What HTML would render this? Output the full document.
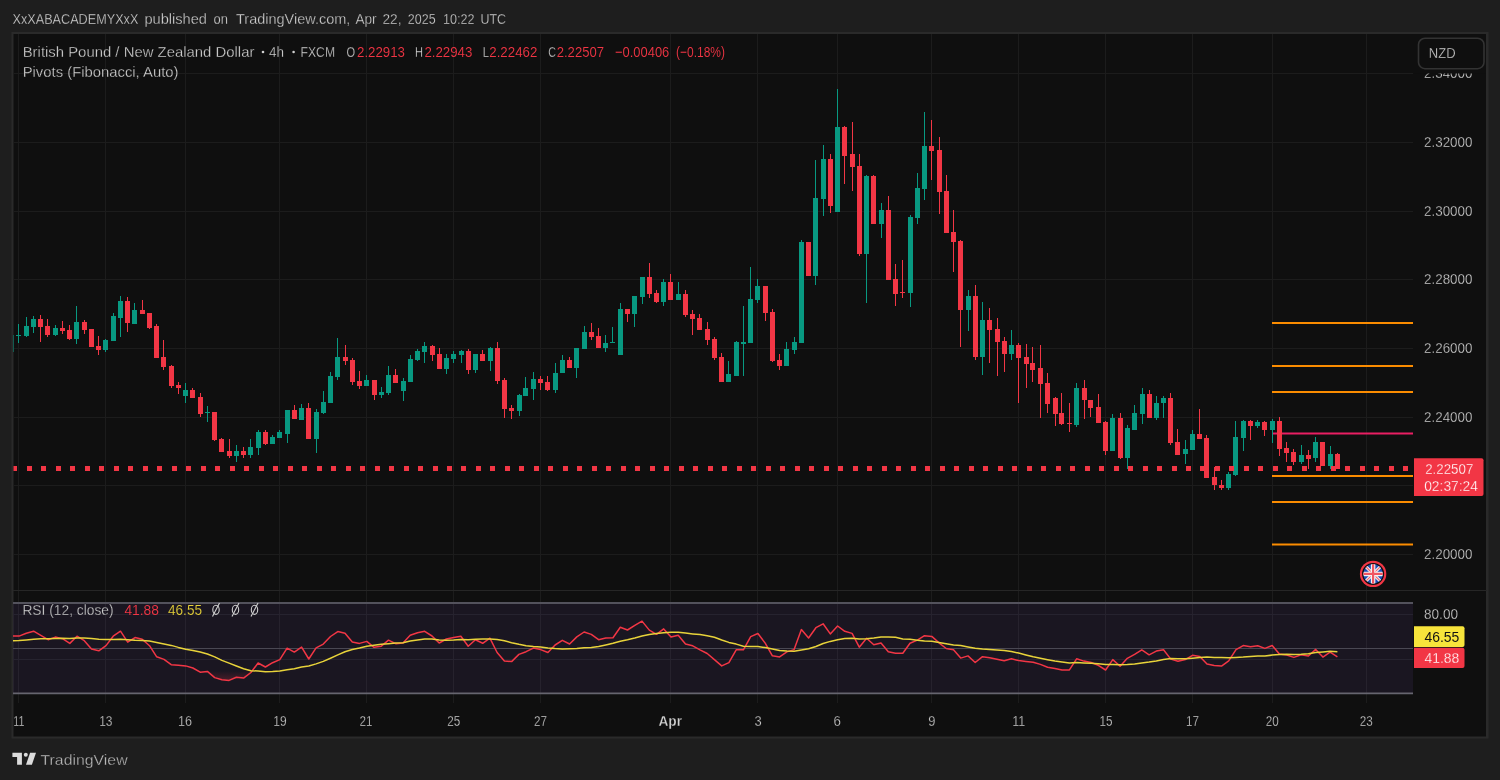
<!DOCTYPE html>
<html><head><meta charset="utf-8"><style>
html,body{margin:0;padding:0;background:#1e1e1e;overflow:hidden;width:1500px;height:780px;}
svg{display:block;font-family:"Liberation Sans", sans-serif;will-change:transform;}
</style></head><body>
<svg width="1500" height="780" viewBox="0 0 1500 780">
<rect x="0" y="0" width="1500" height="780" fill="#1e1e1e"/>
<rect x="11.5" y="32" width="1477" height="706.5" fill="#2a2a2a"/>
<rect x="13.5" y="34" width="1472.5" height="702.5" fill="#0f0f0f"/>
<defs><clipPath id="cm"><rect x="13.5" y="34" width="1399.5" height="556"/></clipPath><clipPath id="cr"><rect x="13" y="591" width="1400" height="112"/></clipPath><linearGradient id="osg" gradientUnits="userSpaceOnUse" x1="0" y1="671" x2="0" y2="688"><stop offset="0" stop-color="#f23645" stop-opacity="0"/><stop offset="1" stop-color="#f23645" stop-opacity="0.4"/></linearGradient></defs>
<line x1="18.5" y1="34" x2="18.5" y2="703" stroke="#1c1c1c" stroke-width="1"/>
<line x1="105.5" y1="34" x2="105.5" y2="703" stroke="#1c1c1c" stroke-width="1"/>
<line x1="185.5" y1="34" x2="185.5" y2="703" stroke="#1c1c1c" stroke-width="1"/>
<line x1="279.5" y1="34" x2="279.5" y2="703" stroke="#1c1c1c" stroke-width="1"/>
<line x1="366.5" y1="34" x2="366.5" y2="703" stroke="#1c1c1c" stroke-width="1"/>
<line x1="453.5" y1="34" x2="453.5" y2="703" stroke="#1c1c1c" stroke-width="1"/>
<line x1="540.5" y1="34" x2="540.5" y2="703" stroke="#1c1c1c" stroke-width="1"/>
<line x1="670.5" y1="34" x2="670.5" y2="703" stroke="#1c1c1c" stroke-width="1"/>
<line x1="757.5" y1="34" x2="757.5" y2="703" stroke="#1c1c1c" stroke-width="1"/>
<line x1="837.5" y1="34" x2="837.5" y2="703" stroke="#1c1c1c" stroke-width="1"/>
<line x1="931.5" y1="34" x2="931.5" y2="703" stroke="#1c1c1c" stroke-width="1"/>
<line x1="1018.5" y1="34" x2="1018.5" y2="703" stroke="#1c1c1c" stroke-width="1"/>
<line x1="1105.5" y1="34" x2="1105.5" y2="703" stroke="#1c1c1c" stroke-width="1"/>
<line x1="1192.5" y1="34" x2="1192.5" y2="703" stroke="#1c1c1c" stroke-width="1"/>
<line x1="1272.5" y1="34" x2="1272.5" y2="703" stroke="#1c1c1c" stroke-width="1"/>
<line x1="1366.5" y1="34" x2="1366.5" y2="703" stroke="#1c1c1c" stroke-width="1"/>
<line x1="13" y1="554.5" x2="1413" y2="554.5" stroke="#1c1c1c" stroke-width="1"/>
<line x1="13" y1="485.5" x2="1413" y2="485.5" stroke="#1c1c1c" stroke-width="1"/>
<line x1="13" y1="417.5" x2="1413" y2="417.5" stroke="#1c1c1c" stroke-width="1"/>
<line x1="13" y1="348.5" x2="1413" y2="348.5" stroke="#1c1c1c" stroke-width="1"/>
<line x1="13" y1="279.5" x2="1413" y2="279.5" stroke="#1c1c1c" stroke-width="1"/>
<line x1="13" y1="211.5" x2="1413" y2="211.5" stroke="#1c1c1c" stroke-width="1"/>
<line x1="13" y1="142.5" x2="1413" y2="142.5" stroke="#1c1c1c" stroke-width="1"/>
<line x1="13" y1="73.5" x2="1413" y2="73.5" stroke="#1c1c1c" stroke-width="1"/>
<line x1="13" y1="590.5" x2="1487" y2="590.5" stroke="#262626" stroke-width="1"/>
<rect x="1272" y="322" width="141" height="2" fill="#fb8c00"/>
<rect x="1272" y="365" width="141" height="2" fill="#fb8c00"/>
<rect x="1272" y="391" width="141" height="2" fill="#fb8c00"/>
<rect x="1272" y="432.5" width="141" height="2" fill="#e91e63"/>
<rect x="1272" y="475" width="141" height="2" fill="#fb8c00"/>
<rect x="1272" y="501" width="141" height="2" fill="#fb8c00"/>
<rect x="1272" y="543.5" width="141" height="2" fill="#fb8c00"/>
<g clip-path="url(#cm)">
<rect x="11" y="335" width="1" height="17" fill="#089981"/>
<rect x="9" y="335" width="5" height="17" fill="#089981"/>
<rect x="18" y="324" width="1" height="19" fill="#089981"/>
<rect x="16" y="335" width="5" height="1" fill="#089981"/>
<rect x="26" y="317" width="1" height="20" fill="#089981"/>
<rect x="24" y="326" width="5" height="10" fill="#089981"/>
<rect x="33" y="316" width="1" height="17" fill="#089981"/>
<rect x="31" y="319" width="5" height="8" fill="#089981"/>
<rect x="40" y="315" width="1" height="27" fill="#f23645"/>
<rect x="38" y="319" width="5" height="8" fill="#f23645"/>
<rect x="47" y="319" width="1" height="18" fill="#f23645"/>
<rect x="45" y="326" width="5" height="9" fill="#f23645"/>
<rect x="55" y="325" width="1" height="11" fill="#089981"/>
<rect x="53" y="328" width="5" height="7" fill="#089981"/>
<rect x="62" y="321" width="1" height="13" fill="#f23645"/>
<rect x="60" y="328" width="5" height="3" fill="#f23645"/>
<rect x="69" y="325" width="1" height="15" fill="#f23645"/>
<rect x="67" y="330" width="5" height="9" fill="#f23645"/>
<rect x="76" y="306" width="1" height="38" fill="#089981"/>
<rect x="74" y="322" width="5" height="17" fill="#089981"/>
<rect x="84" y="320" width="1" height="14" fill="#f23645"/>
<rect x="82" y="322" width="5" height="8" fill="#f23645"/>
<rect x="91" y="329" width="1" height="18" fill="#f23645"/>
<rect x="89" y="329" width="5" height="18" fill="#f23645"/>
<rect x="98" y="336" width="1" height="19" fill="#f23645"/>
<rect x="96" y="346" width="5" height="4" fill="#f23645"/>
<rect x="105" y="339" width="1" height="13" fill="#089981"/>
<rect x="103" y="340" width="5" height="10" fill="#089981"/>
<rect x="113" y="313" width="1" height="28" fill="#089981"/>
<rect x="111" y="316" width="5" height="25" fill="#089981"/>
<rect x="120" y="296" width="1" height="41" fill="#089981"/>
<rect x="118" y="301" width="5" height="17" fill="#089981"/>
<rect x="127" y="297" width="1" height="35" fill="#f23645"/>
<rect x="125" y="301" width="5" height="22" fill="#f23645"/>
<rect x="134" y="303" width="1" height="21" fill="#089981"/>
<rect x="132" y="310" width="5" height="14" fill="#089981"/>
<rect x="142" y="300" width="1" height="14" fill="#f23645"/>
<rect x="140" y="310" width="5" height="4" fill="#f23645"/>
<rect x="149" y="313" width="1" height="16" fill="#f23645"/>
<rect x="147" y="313" width="5" height="15" fill="#f23645"/>
<rect x="156" y="324" width="1" height="34" fill="#f23645"/>
<rect x="154" y="326" width="5" height="32" fill="#f23645"/>
<rect x="163" y="340" width="1" height="30" fill="#f23645"/>
<rect x="161" y="357" width="5" height="10" fill="#f23645"/>
<rect x="171" y="365" width="1" height="23" fill="#f23645"/>
<rect x="169" y="366" width="5" height="20" fill="#f23645"/>
<rect x="178" y="382" width="1" height="12" fill="#f23645"/>
<rect x="176" y="385" width="5" height="3" fill="#f23645"/>
<rect x="185" y="383" width="1" height="20" fill="#089981"/>
<rect x="183" y="390" width="5" height="6" fill="#089981"/>
<rect x="192" y="388" width="1" height="10" fill="#f23645"/>
<rect x="190" y="390" width="5" height="8" fill="#f23645"/>
<rect x="200" y="393" width="1" height="24" fill="#f23645"/>
<rect x="198" y="397" width="5" height="17" fill="#f23645"/>
<rect x="207" y="406" width="1" height="16" fill="#089981"/>
<rect x="205" y="412" width="5" height="1" fill="#089981"/>
<rect x="214" y="412" width="1" height="29" fill="#f23645"/>
<rect x="212" y="412" width="5" height="28" fill="#f23645"/>
<rect x="221" y="438" width="1" height="14" fill="#f23645"/>
<rect x="219" y="439" width="5" height="13" fill="#f23645"/>
<rect x="229" y="439" width="1" height="19" fill="#f23645"/>
<rect x="227" y="451" width="5" height="5" fill="#f23645"/>
<rect x="236" y="445" width="1" height="17" fill="#089981"/>
<rect x="234" y="451" width="5" height="5" fill="#089981"/>
<rect x="243" y="447" width="1" height="11" fill="#f23645"/>
<rect x="241" y="451" width="5" height="4" fill="#f23645"/>
<rect x="250" y="439" width="1" height="19" fill="#089981"/>
<rect x="248" y="447" width="5" height="8" fill="#089981"/>
<rect x="258" y="430" width="1" height="25" fill="#089981"/>
<rect x="256" y="432" width="5" height="16" fill="#089981"/>
<rect x="265" y="430" width="1" height="15" fill="#f23645"/>
<rect x="263" y="432" width="5" height="12" fill="#f23645"/>
<rect x="272" y="435" width="1" height="9" fill="#089981"/>
<rect x="270" y="437" width="5" height="7" fill="#089981"/>
<rect x="279" y="430" width="1" height="8" fill="#089981"/>
<rect x="277" y="432" width="5" height="6" fill="#089981"/>
<rect x="287" y="410" width="1" height="33" fill="#089981"/>
<rect x="285" y="410" width="5" height="24" fill="#089981"/>
<rect x="294" y="405" width="1" height="14" fill="#f23645"/>
<rect x="292" y="410" width="5" height="9" fill="#f23645"/>
<rect x="301" y="404" width="1" height="16" fill="#089981"/>
<rect x="299" y="408" width="5" height="12" fill="#089981"/>
<rect x="308" y="403" width="1" height="36" fill="#f23645"/>
<rect x="306" y="408" width="5" height="31" fill="#f23645"/>
<rect x="316" y="409" width="1" height="44" fill="#089981"/>
<rect x="314" y="412" width="5" height="27" fill="#089981"/>
<rect x="323" y="391" width="1" height="23" fill="#089981"/>
<rect x="321" y="402" width="5" height="11" fill="#089981"/>
<rect x="330" y="372" width="1" height="31" fill="#089981"/>
<rect x="328" y="376" width="5" height="27" fill="#089981"/>
<rect x="337" y="338" width="1" height="42" fill="#089981"/>
<rect x="335" y="357" width="5" height="20" fill="#089981"/>
<rect x="345" y="345" width="1" height="20" fill="#f23645"/>
<rect x="343" y="357" width="5" height="4" fill="#f23645"/>
<rect x="352" y="358" width="1" height="27" fill="#f23645"/>
<rect x="350" y="360" width="5" height="22" fill="#f23645"/>
<rect x="359" y="371" width="1" height="18" fill="#f23645"/>
<rect x="357" y="381" width="5" height="5" fill="#f23645"/>
<rect x="366" y="375" width="1" height="11" fill="#089981"/>
<rect x="364" y="380" width="5" height="6" fill="#089981"/>
<rect x="374" y="380" width="1" height="20" fill="#f23645"/>
<rect x="372" y="380" width="5" height="15" fill="#f23645"/>
<rect x="381" y="387" width="1" height="11" fill="#089981"/>
<rect x="379" y="392" width="5" height="3" fill="#089981"/>
<rect x="388" y="366" width="1" height="29" fill="#089981"/>
<rect x="386" y="375" width="5" height="18" fill="#089981"/>
<rect x="395" y="369" width="1" height="14" fill="#f23645"/>
<rect x="393" y="375" width="5" height="8" fill="#f23645"/>
<rect x="403" y="378" width="1" height="23" fill="#089981"/>
<rect x="401" y="381" width="5" height="10" fill="#089981"/>
<rect x="410" y="355" width="1" height="27" fill="#089981"/>
<rect x="408" y="359" width="5" height="23" fill="#089981"/>
<rect x="417" y="349" width="1" height="12" fill="#089981"/>
<rect x="415" y="351" width="5" height="9" fill="#089981"/>
<rect x="424" y="342" width="1" height="21" fill="#089981"/>
<rect x="422" y="346" width="5" height="6" fill="#089981"/>
<rect x="432" y="345" width="1" height="16" fill="#f23645"/>
<rect x="430" y="346" width="5" height="9" fill="#f23645"/>
<rect x="439" y="348" width="1" height="21" fill="#f23645"/>
<rect x="437" y="354" width="5" height="15" fill="#f23645"/>
<rect x="446" y="354" width="1" height="20" fill="#089981"/>
<rect x="444" y="358" width="5" height="11" fill="#089981"/>
<rect x="453" y="351" width="1" height="12" fill="#089981"/>
<rect x="451" y="354" width="5" height="5" fill="#089981"/>
<rect x="461" y="350" width="1" height="13" fill="#089981"/>
<rect x="459" y="351" width="5" height="4" fill="#089981"/>
<rect x="468" y="349" width="1" height="25" fill="#f23645"/>
<rect x="466" y="351" width="5" height="19" fill="#f23645"/>
<rect x="475" y="354" width="1" height="19" fill="#089981"/>
<rect x="473" y="354" width="5" height="16" fill="#089981"/>
<rect x="482" y="350" width="1" height="11" fill="#f23645"/>
<rect x="480" y="354" width="5" height="7" fill="#f23645"/>
<rect x="490" y="347" width="1" height="24" fill="#089981"/>
<rect x="488" y="348" width="5" height="13" fill="#089981"/>
<rect x="497" y="342" width="1" height="42" fill="#f23645"/>
<rect x="495" y="348" width="5" height="33" fill="#f23645"/>
<rect x="504" y="378" width="1" height="40" fill="#f23645"/>
<rect x="502" y="380" width="5" height="29" fill="#f23645"/>
<rect x="511" y="405" width="1" height="14" fill="#f23645"/>
<rect x="509" y="408" width="5" height="3" fill="#f23645"/>
<rect x="519" y="394" width="1" height="22" fill="#089981"/>
<rect x="517" y="395" width="5" height="16" fill="#089981"/>
<rect x="525" y="377" width="1" height="19" fill="#089981"/>
<rect x="523" y="388" width="5" height="8" fill="#089981"/>
<rect x="533" y="372" width="1" height="28" fill="#089981"/>
<rect x="531" y="379" width="5" height="10" fill="#089981"/>
<rect x="540" y="376" width="1" height="14" fill="#f23645"/>
<rect x="538" y="379" width="5" height="4" fill="#f23645"/>
<rect x="547" y="376" width="1" height="15" fill="#f23645"/>
<rect x="545" y="382" width="5" height="8" fill="#f23645"/>
<rect x="555" y="363" width="1" height="30" fill="#089981"/>
<rect x="553" y="373" width="5" height="17" fill="#089981"/>
<rect x="562" y="355" width="1" height="18" fill="#089981"/>
<rect x="560" y="360" width="5" height="13" fill="#089981"/>
<rect x="569" y="357" width="1" height="11" fill="#f23645"/>
<rect x="567" y="360" width="5" height="8" fill="#f23645"/>
<rect x="576" y="348" width="1" height="30" fill="#089981"/>
<rect x="574" y="348" width="5" height="20" fill="#089981"/>
<rect x="584" y="326" width="1" height="23" fill="#089981"/>
<rect x="582" y="332" width="5" height="17" fill="#089981"/>
<rect x="591" y="323" width="1" height="17" fill="#f23645"/>
<rect x="589" y="332" width="5" height="5" fill="#f23645"/>
<rect x="598" y="328" width="1" height="20" fill="#f23645"/>
<rect x="596" y="336" width="5" height="12" fill="#f23645"/>
<rect x="605" y="335" width="1" height="17" fill="#089981"/>
<rect x="603" y="343" width="5" height="5" fill="#089981"/>
<rect x="612" y="327" width="1" height="16" fill="#089981"/>
<rect x="610" y="342" width="5" height="1" fill="#089981"/>
<rect x="620" y="303" width="1" height="52" fill="#089981"/>
<rect x="618" y="309" width="5" height="46" fill="#089981"/>
<rect x="627" y="309" width="1" height="13" fill="#f23645"/>
<rect x="625" y="309" width="5" height="5" fill="#f23645"/>
<rect x="634" y="296" width="1" height="31" fill="#089981"/>
<rect x="632" y="296" width="5" height="18" fill="#089981"/>
<rect x="642" y="277" width="1" height="27" fill="#089981"/>
<rect x="640" y="277" width="5" height="20" fill="#089981"/>
<rect x="649" y="263" width="1" height="35" fill="#f23645"/>
<rect x="647" y="277" width="5" height="17" fill="#f23645"/>
<rect x="656" y="290" width="1" height="13" fill="#f23645"/>
<rect x="654" y="293" width="5" height="9" fill="#f23645"/>
<rect x="663" y="279" width="1" height="27" fill="#089981"/>
<rect x="661" y="282" width="5" height="20" fill="#089981"/>
<rect x="670" y="274" width="1" height="26" fill="#f23645"/>
<rect x="668" y="282" width="5" height="18" fill="#f23645"/>
<rect x="678" y="282" width="1" height="18" fill="#089981"/>
<rect x="676" y="294" width="5" height="6" fill="#089981"/>
<rect x="685" y="290" width="1" height="27" fill="#f23645"/>
<rect x="683" y="294" width="5" height="21" fill="#f23645"/>
<rect x="692" y="310" width="1" height="25" fill="#f23645"/>
<rect x="690" y="314" width="5" height="5" fill="#f23645"/>
<rect x="699" y="314" width="1" height="16" fill="#f23645"/>
<rect x="697" y="318" width="5" height="12" fill="#f23645"/>
<rect x="707" y="322" width="1" height="23" fill="#f23645"/>
<rect x="705" y="329" width="5" height="11" fill="#f23645"/>
<rect x="714" y="337" width="1" height="23" fill="#f23645"/>
<rect x="712" y="339" width="5" height="19" fill="#f23645"/>
<rect x="721" y="353" width="1" height="29" fill="#f23645"/>
<rect x="719" y="357" width="5" height="25" fill="#f23645"/>
<rect x="728" y="361" width="1" height="21" fill="#089981"/>
<rect x="726" y="374" width="5" height="8" fill="#089981"/>
<rect x="736" y="341" width="1" height="35" fill="#089981"/>
<rect x="734" y="342" width="5" height="34" fill="#089981"/>
<rect x="743" y="306" width="1" height="70" fill="#089981"/>
<rect x="741" y="342" width="5" height="2" fill="#089981"/>
<rect x="750" y="267" width="1" height="76" fill="#089981"/>
<rect x="748" y="299" width="5" height="44" fill="#089981"/>
<rect x="757" y="279" width="1" height="24" fill="#089981"/>
<rect x="755" y="286" width="5" height="14" fill="#089981"/>
<rect x="765" y="286" width="1" height="35" fill="#f23645"/>
<rect x="763" y="286" width="5" height="27" fill="#f23645"/>
<rect x="772" y="309" width="1" height="53" fill="#f23645"/>
<rect x="770" y="312" width="5" height="49" fill="#f23645"/>
<rect x="779" y="354" width="1" height="16" fill="#f23645"/>
<rect x="777" y="360" width="5" height="6" fill="#f23645"/>
<rect x="786" y="342" width="1" height="24" fill="#089981"/>
<rect x="784" y="349" width="5" height="17" fill="#089981"/>
<rect x="794" y="337" width="1" height="17" fill="#089981"/>
<rect x="792" y="342" width="5" height="8" fill="#089981"/>
<rect x="801" y="240" width="1" height="103" fill="#089981"/>
<rect x="799" y="242" width="5" height="101" fill="#089981"/>
<rect x="808" y="242" width="1" height="34" fill="#f23645"/>
<rect x="806" y="242" width="5" height="34" fill="#f23645"/>
<rect x="815" y="160" width="1" height="125" fill="#089981"/>
<rect x="813" y="198" width="5" height="78" fill="#089981"/>
<rect x="823" y="145" width="1" height="71" fill="#089981"/>
<rect x="821" y="159" width="5" height="40" fill="#089981"/>
<rect x="830" y="154" width="1" height="59" fill="#f23645"/>
<rect x="828" y="159" width="5" height="47" fill="#f23645"/>
<rect x="837" y="89" width="1" height="123" fill="#089981"/>
<rect x="835" y="127" width="5" height="85" fill="#089981"/>
<rect x="844" y="126" width="1" height="58" fill="#f23645"/>
<rect x="842" y="127" width="5" height="29" fill="#f23645"/>
<rect x="852" y="122" width="1" height="69" fill="#f23645"/>
<rect x="850" y="154" width="5" height="13" fill="#f23645"/>
<rect x="859" y="154" width="1" height="102" fill="#f23645"/>
<rect x="857" y="166" width="5" height="88" fill="#f23645"/>
<rect x="866" y="175" width="1" height="128" fill="#089981"/>
<rect x="864" y="176" width="5" height="78" fill="#089981"/>
<rect x="873" y="175" width="1" height="49" fill="#f23645"/>
<rect x="871" y="176" width="5" height="48" fill="#f23645"/>
<rect x="881" y="203" width="1" height="35" fill="#089981"/>
<rect x="879" y="210" width="5" height="14" fill="#089981"/>
<rect x="888" y="196" width="1" height="84" fill="#f23645"/>
<rect x="886" y="210" width="5" height="70" fill="#f23645"/>
<rect x="895" y="264" width="1" height="42" fill="#f23645"/>
<rect x="893" y="279" width="5" height="15" fill="#f23645"/>
<rect x="902" y="260" width="1" height="38" fill="#f23645"/>
<rect x="900" y="292" width="5" height="1" fill="#f23645"/>
<rect x="910" y="215" width="1" height="92" fill="#089981"/>
<rect x="908" y="217" width="5" height="76" fill="#089981"/>
<rect x="917" y="173" width="1" height="51" fill="#089981"/>
<rect x="915" y="188" width="5" height="30" fill="#089981"/>
<rect x="924" y="112" width="1" height="88" fill="#089981"/>
<rect x="922" y="146" width="5" height="43" fill="#089981"/>
<rect x="931" y="120" width="1" height="60" fill="#f23645"/>
<rect x="929" y="146" width="5" height="5" fill="#f23645"/>
<rect x="939" y="137" width="1" height="77" fill="#f23645"/>
<rect x="937" y="150" width="5" height="42" fill="#f23645"/>
<rect x="946" y="175" width="1" height="58" fill="#f23645"/>
<rect x="944" y="191" width="5" height="42" fill="#f23645"/>
<rect x="953" y="210" width="1" height="62" fill="#f23645"/>
<rect x="951" y="232" width="5" height="10" fill="#f23645"/>
<rect x="960" y="240" width="1" height="107" fill="#f23645"/>
<rect x="958" y="241" width="5" height="69" fill="#f23645"/>
<rect x="968" y="290" width="1" height="41" fill="#089981"/>
<rect x="966" y="296" width="5" height="14" fill="#089981"/>
<rect x="975" y="285" width="1" height="75" fill="#f23645"/>
<rect x="973" y="296" width="5" height="61" fill="#f23645"/>
<rect x="982" y="302" width="1" height="73" fill="#089981"/>
<rect x="980" y="320" width="5" height="37" fill="#089981"/>
<rect x="989" y="308" width="1" height="55" fill="#f23645"/>
<rect x="987" y="320" width="5" height="10" fill="#f23645"/>
<rect x="997" y="318" width="1" height="58" fill="#f23645"/>
<rect x="995" y="329" width="5" height="13" fill="#f23645"/>
<rect x="1004" y="337" width="1" height="35" fill="#f23645"/>
<rect x="1002" y="341" width="5" height="13" fill="#f23645"/>
<rect x="1011" y="330" width="1" height="30" fill="#089981"/>
<rect x="1009" y="345" width="5" height="9" fill="#089981"/>
<rect x="1018" y="343" width="1" height="60" fill="#f23645"/>
<rect x="1016" y="345" width="5" height="13" fill="#f23645"/>
<rect x="1026" y="344" width="1" height="44" fill="#f23645"/>
<rect x="1024" y="357" width="5" height="7" fill="#f23645"/>
<rect x="1032" y="347" width="1" height="35" fill="#f23645"/>
<rect x="1030" y="363" width="5" height="7" fill="#f23645"/>
<rect x="1040" y="345" width="1" height="73" fill="#f23645"/>
<rect x="1038" y="368" width="5" height="16" fill="#f23645"/>
<rect x="1047" y="373" width="1" height="40" fill="#f23645"/>
<rect x="1045" y="383" width="5" height="21" fill="#f23645"/>
<rect x="1055" y="397" width="1" height="29" fill="#f23645"/>
<rect x="1053" y="398" width="5" height="16" fill="#f23645"/>
<rect x="1061" y="393" width="1" height="32" fill="#f23645"/>
<rect x="1059" y="413" width="5" height="11" fill="#f23645"/>
<rect x="1069" y="403" width="1" height="29" fill="#f23645"/>
<rect x="1067" y="423" width="5" height="1" fill="#f23645"/>
<rect x="1076" y="383" width="1" height="44" fill="#089981"/>
<rect x="1074" y="388" width="5" height="37" fill="#089981"/>
<rect x="1084" y="380" width="1" height="39" fill="#f23645"/>
<rect x="1082" y="388" width="5" height="12" fill="#f23645"/>
<rect x="1090" y="400" width="1" height="17" fill="#f23645"/>
<rect x="1088" y="400" width="5" height="8" fill="#f23645"/>
<rect x="1098" y="394" width="1" height="29" fill="#f23645"/>
<rect x="1096" y="407" width="5" height="16" fill="#f23645"/>
<rect x="1105" y="421" width="1" height="34" fill="#f23645"/>
<rect x="1103" y="422" width="5" height="29" fill="#f23645"/>
<rect x="1112" y="414" width="1" height="37" fill="#089981"/>
<rect x="1110" y="418" width="5" height="33" fill="#089981"/>
<rect x="1120" y="413" width="1" height="46" fill="#f23645"/>
<rect x="1118" y="418" width="5" height="40" fill="#f23645"/>
<rect x="1127" y="425" width="1" height="44" fill="#089981"/>
<rect x="1125" y="428" width="5" height="30" fill="#089981"/>
<rect x="1134" y="405" width="1" height="25" fill="#089981"/>
<rect x="1132" y="413" width="5" height="17" fill="#089981"/>
<rect x="1142" y="388" width="1" height="36" fill="#089981"/>
<rect x="1140" y="394" width="5" height="20" fill="#089981"/>
<rect x="1149" y="390" width="1" height="28" fill="#f23645"/>
<rect x="1147" y="394" width="5" height="24" fill="#f23645"/>
<rect x="1156" y="396" width="1" height="24" fill="#089981"/>
<rect x="1154" y="403" width="5" height="15" fill="#089981"/>
<rect x="1163" y="396" width="1" height="22" fill="#089981"/>
<rect x="1161" y="398" width="5" height="5" fill="#089981"/>
<rect x="1170" y="393" width="1" height="52" fill="#f23645"/>
<rect x="1168" y="398" width="5" height="45" fill="#f23645"/>
<rect x="1177" y="429" width="1" height="26" fill="#f23645"/>
<rect x="1175" y="442" width="5" height="13" fill="#f23645"/>
<rect x="1185" y="440" width="1" height="24" fill="#089981"/>
<rect x="1183" y="449" width="5" height="5" fill="#089981"/>
<rect x="1192" y="430" width="1" height="20" fill="#089981"/>
<rect x="1190" y="434" width="5" height="16" fill="#089981"/>
<rect x="1199" y="409" width="1" height="30" fill="#f23645"/>
<rect x="1197" y="434" width="5" height="5" fill="#f23645"/>
<rect x="1206" y="435" width="1" height="43" fill="#f23645"/>
<rect x="1204" y="438" width="5" height="40" fill="#f23645"/>
<rect x="1214" y="467" width="1" height="23" fill="#f23645"/>
<rect x="1212" y="477" width="5" height="8" fill="#f23645"/>
<rect x="1221" y="480" width="1" height="10" fill="#f23645"/>
<rect x="1219" y="485" width="5" height="3" fill="#f23645"/>
<rect x="1228" y="472" width="1" height="18" fill="#089981"/>
<rect x="1226" y="474" width="5" height="14" fill="#089981"/>
<rect x="1235" y="421" width="1" height="55" fill="#089981"/>
<rect x="1233" y="437" width="5" height="38" fill="#089981"/>
<rect x="1243" y="420" width="1" height="31" fill="#089981"/>
<rect x="1241" y="421" width="5" height="17" fill="#089981"/>
<rect x="1250" y="420" width="1" height="20" fill="#f23645"/>
<rect x="1248" y="421" width="5" height="5" fill="#f23645"/>
<rect x="1257" y="420" width="1" height="8" fill="#089981"/>
<rect x="1255" y="422" width="5" height="4" fill="#089981"/>
<rect x="1264" y="421" width="1" height="15" fill="#f23645"/>
<rect x="1262" y="422" width="5" height="8" fill="#f23645"/>
<rect x="1272" y="419" width="1" height="24" fill="#089981"/>
<rect x="1270" y="421" width="5" height="9" fill="#089981"/>
<rect x="1279" y="417" width="1" height="39" fill="#f23645"/>
<rect x="1277" y="421" width="5" height="28" fill="#f23645"/>
<rect x="1286" y="442" width="1" height="20" fill="#f23645"/>
<rect x="1284" y="448" width="5" height="5" fill="#f23645"/>
<rect x="1293" y="449" width="1" height="16" fill="#f23645"/>
<rect x="1291" y="452" width="5" height="10" fill="#f23645"/>
<rect x="1301" y="445" width="1" height="19" fill="#089981"/>
<rect x="1299" y="455" width="5" height="7" fill="#089981"/>
<rect x="1308" y="450" width="1" height="19" fill="#f23645"/>
<rect x="1306" y="455" width="5" height="4" fill="#f23645"/>
<rect x="1315" y="437" width="1" height="25" fill="#089981"/>
<rect x="1313" y="442" width="5" height="16" fill="#089981"/>
<rect x="1322" y="442" width="1" height="24" fill="#f23645"/>
<rect x="1320" y="442" width="5" height="24" fill="#f23645"/>
<rect x="1330" y="446" width="1" height="23" fill="#089981"/>
<rect x="1328" y="454" width="5" height="12" fill="#089981"/>
<rect x="1337" y="453" width="1" height="16" fill="#f23645"/>
<rect x="1335" y="454" width="5" height="15" fill="#f23645"/>
</g>
<g clip-path="url(#cm)">
<rect x="12" y="466" width="5" height="5" fill="#f23645"/>
<rect x="27" y="466" width="5" height="5" fill="#f23645"/>
<rect x="41" y="466" width="5" height="5" fill="#f23645"/>
<rect x="56" y="466" width="5" height="5" fill="#f23645"/>
<rect x="70" y="466" width="5" height="5" fill="#f23645"/>
<rect x="85" y="466" width="5" height="5" fill="#f23645"/>
<rect x="99" y="466" width="5" height="5" fill="#f23645"/>
<rect x="114" y="466" width="5" height="5" fill="#f23645"/>
<rect x="128" y="466" width="5" height="5" fill="#f23645"/>
<rect x="143" y="466" width="5" height="5" fill="#f23645"/>
<rect x="157" y="466" width="5" height="5" fill="#f23645"/>
<rect x="172" y="466" width="5" height="5" fill="#f23645"/>
<rect x="186" y="466" width="5" height="5" fill="#f23645"/>
<rect x="201" y="466" width="5" height="5" fill="#f23645"/>
<rect x="215" y="466" width="5" height="5" fill="#f23645"/>
<rect x="230" y="466" width="5" height="5" fill="#f23645"/>
<rect x="244" y="466" width="5" height="5" fill="#f23645"/>
<rect x="259" y="466" width="5" height="5" fill="#f23645"/>
<rect x="273" y="466" width="5" height="5" fill="#f23645"/>
<rect x="288" y="466" width="5" height="5" fill="#f23645"/>
<rect x="302" y="466" width="5" height="5" fill="#f23645"/>
<rect x="317" y="466" width="5" height="5" fill="#f23645"/>
<rect x="331" y="466" width="5" height="5" fill="#f23645"/>
<rect x="346" y="466" width="5" height="5" fill="#f23645"/>
<rect x="360" y="466" width="5" height="5" fill="#f23645"/>
<rect x="375" y="466" width="5" height="5" fill="#f23645"/>
<rect x="389" y="466" width="5" height="5" fill="#f23645"/>
<rect x="404" y="466" width="5" height="5" fill="#f23645"/>
<rect x="418" y="466" width="5" height="5" fill="#f23645"/>
<rect x="433" y="466" width="5" height="5" fill="#f23645"/>
<rect x="447" y="466" width="5" height="5" fill="#f23645"/>
<rect x="461" y="466" width="5" height="5" fill="#f23645"/>
<rect x="476" y="466" width="5" height="5" fill="#f23645"/>
<rect x="490" y="466" width="5" height="5" fill="#f23645"/>
<rect x="505" y="466" width="5" height="5" fill="#f23645"/>
<rect x="519" y="466" width="5" height="5" fill="#f23645"/>
<rect x="534" y="466" width="5" height="5" fill="#f23645"/>
<rect x="548" y="466" width="5" height="5" fill="#f23645"/>
<rect x="563" y="466" width="5" height="5" fill="#f23645"/>
<rect x="577" y="466" width="5" height="5" fill="#f23645"/>
<rect x="592" y="466" width="5" height="5" fill="#f23645"/>
<rect x="606" y="466" width="5" height="5" fill="#f23645"/>
<rect x="621" y="466" width="5" height="5" fill="#f23645"/>
<rect x="635" y="466" width="5" height="5" fill="#f23645"/>
<rect x="650" y="466" width="5" height="5" fill="#f23645"/>
<rect x="664" y="466" width="5" height="5" fill="#f23645"/>
<rect x="679" y="466" width="5" height="5" fill="#f23645"/>
<rect x="693" y="466" width="5" height="5" fill="#f23645"/>
<rect x="708" y="466" width="5" height="5" fill="#f23645"/>
<rect x="722" y="466" width="5" height="5" fill="#f23645"/>
<rect x="737" y="466" width="5" height="5" fill="#f23645"/>
<rect x="751" y="466" width="5" height="5" fill="#f23645"/>
<rect x="766" y="466" width="5" height="5" fill="#f23645"/>
<rect x="780" y="466" width="5" height="5" fill="#f23645"/>
<rect x="795" y="466" width="5" height="5" fill="#f23645"/>
<rect x="809" y="466" width="5" height="5" fill="#f23645"/>
<rect x="824" y="466" width="5" height="5" fill="#f23645"/>
<rect x="838" y="466" width="5" height="5" fill="#f23645"/>
<rect x="853" y="466" width="5" height="5" fill="#f23645"/>
<rect x="867" y="466" width="5" height="5" fill="#f23645"/>
<rect x="882" y="466" width="5" height="5" fill="#f23645"/>
<rect x="896" y="466" width="5" height="5" fill="#f23645"/>
<rect x="911" y="466" width="5" height="5" fill="#f23645"/>
<rect x="925" y="466" width="5" height="5" fill="#f23645"/>
<rect x="940" y="466" width="5" height="5" fill="#f23645"/>
<rect x="954" y="466" width="5" height="5" fill="#f23645"/>
<rect x="969" y="466" width="5" height="5" fill="#f23645"/>
<rect x="983" y="466" width="5" height="5" fill="#f23645"/>
<rect x="998" y="466" width="5" height="5" fill="#f23645"/>
<rect x="1012" y="466" width="5" height="5" fill="#f23645"/>
<rect x="1027" y="466" width="5" height="5" fill="#f23645"/>
<rect x="1041" y="466" width="5" height="5" fill="#f23645"/>
<rect x="1056" y="466" width="5" height="5" fill="#f23645"/>
<rect x="1070" y="466" width="5" height="5" fill="#f23645"/>
<rect x="1085" y="466" width="5" height="5" fill="#f23645"/>
<rect x="1099" y="466" width="5" height="5" fill="#f23645"/>
<rect x="1114" y="466" width="5" height="5" fill="#f23645"/>
<rect x="1128" y="466" width="5" height="5" fill="#f23645"/>
<rect x="1143" y="466" width="5" height="5" fill="#f23645"/>
<rect x="1157" y="466" width="5" height="5" fill="#f23645"/>
<rect x="1172" y="466" width="5" height="5" fill="#f23645"/>
<rect x="1186" y="466" width="5" height="5" fill="#f23645"/>
<rect x="1200" y="466" width="5" height="5" fill="#f23645"/>
<rect x="1215" y="466" width="5" height="5" fill="#f23645"/>
<rect x="1229" y="466" width="5" height="5" fill="#f23645"/>
<rect x="1244" y="466" width="5" height="5" fill="#f23645"/>
<rect x="1258" y="466" width="5" height="5" fill="#f23645"/>
<rect x="1273" y="466" width="5" height="5" fill="#f23645"/>
<rect x="1287" y="466" width="5" height="5" fill="#f23645"/>
<rect x="1302" y="466" width="5" height="5" fill="#f23645"/>
<rect x="1316" y="466" width="5" height="5" fill="#f23645"/>
<rect x="1331" y="466" width="5" height="5" fill="#f23645"/>
<rect x="1345" y="466" width="5" height="5" fill="#f23645"/>
<rect x="1360" y="466" width="5" height="5" fill="#f23645"/>
<rect x="1374" y="466" width="5" height="5" fill="#f23645"/>
<rect x="1389" y="466" width="5" height="5" fill="#f23645"/>
<rect x="1403" y="466" width="5" height="5" fill="#f23645"/>
</g>
<g clip-path="url(#cr)">
<rect x="13" y="603" width="1400" height="90" fill="rgb(126,87,194)" fill-opacity="0.1"/>
<line x1="13" y1="614.5" x2="1413" y2="614.5" stroke="#26232f" stroke-width="1"/>
<line x1="13" y1="659.5" x2="1413" y2="659.5" stroke="#26232f" stroke-width="1"/>
<line x1="13" y1="603" x2="1413" y2="603" stroke="#53525c" stroke-width="2"/>
<line x1="13" y1="693.4" x2="1413" y2="693.4" stroke="#66656f" stroke-width="1.6"/>
<line x1="13" y1="648.5" x2="1413" y2="648.5" stroke="#4a4853" stroke-width="1"/>
<clipPath id="os"><rect x="13" y="671" width="1400" height="22"/></clipPath>
<g clip-path="url(#os)"><polygon points="11.8,671 11.8,636.1 19.1,636.1 26.3,633.2 33.6,631.2 40.8,635.4 48.1,639.7 55.3,637.1 62.5,638.7 69.8,643.4 77.0,636.2 84.3,640.7 91.5,649.0 98.8,650.8 106.0,645.6 113.2,636.2 120.5,631.2 127.7,642.1 135.0,637.6 142.2,639.3 149.5,645.7 156.7,656.8 164.0,659.4 171.2,664.7 178.4,665.2 185.7,665.9 192.9,668.0 200.2,672.2 207.4,671.4 214.7,677.6 221.9,679.7 229.1,680.4 236.4,677.3 243.6,678.1 250.9,672.5 258.1,663.0 265.4,667.0 272.6,662.7 279.8,659.6 287.1,648.2 294.3,652.1 301.6,647.1 308.8,659.0 316.1,647.8 323.3,644.1 330.5,636.5 337.8,631.6 345.0,633.2 352.3,642.0 359.5,643.4 366.8,641.4 374.0,647.3 381.3,646.2 388.5,640.2 395.7,643.7 403.0,642.9 410.2,635.2 417.5,632.7 424.7,631.3 432.0,636.0 439.2,643.0 446.4,639.0 453.7,637.4 460.9,636.3 468.2,646.2 475.4,639.8 482.7,643.3 489.9,638.2 497.1,652.5 504.4,661.1 511.6,661.6 518.9,654.4 526.1,651.7 533.4,648.1 540.6,649.6 547.9,652.5 555.1,645.0 562.3,640.3 569.6,644.0 576.8,636.9 584.1,632.0 591.3,634.4 598.6,639.7 605.8,638.1 613.0,637.7 620.3,627.2 627.5,630.0 634.8,625.3 642.0,621.1 649.3,630.1 656.5,634.3 663.7,628.9 671.0,636.9 678.2,635.2 685.5,644.0 692.7,645.8 700.0,649.9 707.2,653.5 714.4,659.6 721.7,665.9 728.9,662.6 736.2,649.8 743.4,649.8 750.7,636.6 757.9,633.5 765.2,643.1 772.4,655.8 779.6,656.9 786.9,651.9 794.1,649.6 801.4,629.6 808.6,638.0 815.9,627.7 823.1,623.8 830.3,633.9 837.6,626.0 844.8,631.3 852.1,633.4 859.3,647.2 866.6,638.3 873.8,644.8 881.0,643.1 888.3,651.7 895.5,653.2 902.8,653.2 910.0,643.3 917.3,640.1 924.5,635.7 931.8,636.4 939.0,642.8 946.2,648.5 953.5,649.8 960.7,658.1 968.0,655.9 975.2,662.5 982.5,656.7 989.7,657.8 996.9,659.2 1004.2,660.7 1011.4,658.8 1018.7,660.6 1025.9,661.4 1033.2,662.3 1040.4,664.4 1047.6,667.3 1054.9,668.6 1062.1,670.1 1069.4,669.9 1076.6,658.8 1083.9,661.1 1091.1,662.5 1098.3,665.3 1105.6,670.0 1112.8,659.6 1120.1,666.3 1127.3,658.3 1134.6,654.4 1141.8,649.8 1149.1,654.8 1156.3,651.1 1163.5,649.8 1170.8,659.1 1178.0,661.2 1185.3,659.6 1192.5,655.3 1199.8,656.4 1207.0,664.1 1214.2,665.5 1221.5,666.1 1228.7,660.9 1236.0,649.7 1243.2,645.6 1250.5,646.8 1257.7,645.8 1264.9,648.4 1272.2,645.5 1279.4,653.9 1286.7,655.0 1293.9,657.4 1301.2,654.8 1308.4,656.0 1315.7,649.4 1322.9,657.1 1330.1,652.2 1337.4,656.9 1337.4,671" fill="url(#osg)"/></g>
<polyline points="11.8,636.1 19.1,636.1 26.3,633.2 33.6,631.2 40.8,635.4 48.1,639.7 55.3,637.1 62.5,638.7 69.8,643.4 77.0,636.2 84.3,640.7 91.5,649.0 98.8,650.8 106.0,645.6 113.2,636.2 120.5,631.2 127.7,642.1 135.0,637.6 142.2,639.3 149.5,645.7 156.7,656.8 164.0,659.4 171.2,664.7 178.4,665.2 185.7,665.9 192.9,668.0 200.2,672.2 207.4,671.4 214.7,677.6 221.9,679.7 229.1,680.4 236.4,677.3 243.6,678.1 250.9,672.5 258.1,663.0 265.4,667.0 272.6,662.7 279.8,659.6 287.1,648.2 294.3,652.1 301.6,647.1 308.8,659.0 316.1,647.8 323.3,644.1 330.5,636.5 337.8,631.6 345.0,633.2 352.3,642.0 359.5,643.4 366.8,641.4 374.0,647.3 381.3,646.2 388.5,640.2 395.7,643.7 403.0,642.9 410.2,635.2 417.5,632.7 424.7,631.3 432.0,636.0 439.2,643.0 446.4,639.0 453.7,637.4 460.9,636.3 468.2,646.2 475.4,639.8 482.7,643.3 489.9,638.2 497.1,652.5 504.4,661.1 511.6,661.6 518.9,654.4 526.1,651.7 533.4,648.1 540.6,649.6 547.9,652.5 555.1,645.0 562.3,640.3 569.6,644.0 576.8,636.9 584.1,632.0 591.3,634.4 598.6,639.7 605.8,638.1 613.0,637.7 620.3,627.2 627.5,630.0 634.8,625.3 642.0,621.1 649.3,630.1 656.5,634.3 663.7,628.9 671.0,636.9 678.2,635.2 685.5,644.0 692.7,645.8 700.0,649.9 707.2,653.5 714.4,659.6 721.7,665.9 728.9,662.6 736.2,649.8 743.4,649.8 750.7,636.6 757.9,633.5 765.2,643.1 772.4,655.8 779.6,656.9 786.9,651.9 794.1,649.6 801.4,629.6 808.6,638.0 815.9,627.7 823.1,623.8 830.3,633.9 837.6,626.0 844.8,631.3 852.1,633.4 859.3,647.2 866.6,638.3 873.8,644.8 881.0,643.1 888.3,651.7 895.5,653.2 902.8,653.2 910.0,643.3 917.3,640.1 924.5,635.7 931.8,636.4 939.0,642.8 946.2,648.5 953.5,649.8 960.7,658.1 968.0,655.9 975.2,662.5 982.5,656.7 989.7,657.8 996.9,659.2 1004.2,660.7 1011.4,658.8 1018.7,660.6 1025.9,661.4 1033.2,662.3 1040.4,664.4 1047.6,667.3 1054.9,668.6 1062.1,670.1 1069.4,669.9 1076.6,658.8 1083.9,661.1 1091.1,662.5 1098.3,665.3 1105.6,670.0 1112.8,659.6 1120.1,666.3 1127.3,658.3 1134.6,654.4 1141.8,649.8 1149.1,654.8 1156.3,651.1 1163.5,649.8 1170.8,659.1 1178.0,661.2 1185.3,659.6 1192.5,655.3 1199.8,656.4 1207.0,664.1 1214.2,665.5 1221.5,666.1 1228.7,660.9 1236.0,649.7 1243.2,645.6 1250.5,646.8 1257.7,645.8 1264.9,648.4 1272.2,645.5 1279.4,653.9 1286.7,655.0 1293.9,657.4 1301.2,654.8 1308.4,656.0 1315.7,649.4 1322.9,657.1 1330.1,652.2 1337.4,656.9" fill="none" stroke="#f23645" stroke-width="1.5" stroke-linejoin="round"/>
<polyline points="11.8,640.8 19.1,640.5 26.3,639.9 33.6,639.2 40.8,638.8 48.1,638.7 55.3,638.4 62.5,638.2 69.8,638.4 77.0,638.0 84.3,638.0 91.5,638.5 98.8,639.2 106.0,639.5 113.2,639.5 120.5,639.2 127.7,639.8 135.0,640.3 142.2,640.5 149.5,641.0 156.7,642.4 164.0,643.9 171.2,645.4 178.4,647.4 185.7,649.2 192.9,650.6 200.2,652.1 207.4,654.0 214.7,656.9 221.9,660.4 229.1,663.1 236.4,666.0 243.6,668.8 250.9,670.7 258.1,671.1 265.4,671.7 272.6,671.5 279.8,671.1 287.1,669.8 294.3,668.7 301.6,666.9 308.8,666.0 316.1,663.9 323.3,661.4 330.5,658.2 337.8,654.9 345.0,651.7 352.3,649.5 359.5,648.1 366.8,646.3 374.0,645.2 381.3,644.3 388.5,643.7 395.7,643.1 403.0,642.8 410.2,641.1 417.5,640.0 424.7,639.1 432.0,639.1 439.2,639.9 446.4,640.3 453.7,640.0 460.9,639.5 468.2,639.8 475.4,639.3 482.7,639.1 489.9,638.9 497.1,639.6 504.4,640.8 511.6,642.7 518.9,644.3 526.1,645.7 533.4,646.6 540.6,647.1 547.9,648.0 555.1,648.6 562.3,648.9 569.6,648.7 576.8,648.5 584.1,647.7 591.3,647.4 598.6,646.5 605.8,644.9 613.0,643.2 620.3,641.2 627.5,639.7 634.8,638.0 642.0,636.0 649.3,634.4 656.5,633.6 663.7,632.8 671.0,632.3 678.2,632.2 685.5,633.1 692.7,633.9 700.0,634.6 707.2,635.7 714.4,637.3 721.7,640.0 728.9,642.4 736.2,644.1 743.4,646.2 750.7,646.6 757.9,646.6 765.2,647.6 772.4,648.9 779.6,650.5 786.9,651.1 794.1,651.3 801.4,649.9 808.6,648.8 815.9,646.5 823.1,643.5 830.3,641.4 837.6,639.7 844.8,638.4 852.1,638.2 859.3,639.1 866.6,638.8 873.8,638.0 881.0,637.0 888.3,637.0 895.5,637.3 902.8,639.0 910.0,639.3 917.3,640.2 924.5,641.1 931.8,641.3 939.0,642.5 946.2,643.7 953.5,644.9 960.7,645.6 968.0,646.9 975.2,648.2 982.5,649.1 989.7,649.6 996.9,650.0 1004.2,650.5 1011.4,651.6 1018.7,653.1 1025.9,654.9 1033.2,656.8 1040.4,658.3 1047.6,659.7 1054.9,661.0 1062.1,661.9 1069.4,662.9 1076.6,662.6 1083.9,662.9 1091.1,663.3 1098.3,663.7 1105.6,664.4 1112.8,664.4 1120.1,664.8 1127.3,664.6 1134.6,664.0 1141.8,663.0 1149.1,662.1 1156.3,660.9 1163.5,659.4 1170.8,658.6 1178.0,658.8 1185.3,658.7 1192.5,658.2 1199.8,657.6 1207.0,657.1 1214.2,657.5 1221.5,657.5 1228.7,657.7 1236.0,657.4 1243.2,657.1 1250.5,656.5 1257.7,656.1 1264.9,656.0 1272.2,655.1 1279.4,654.5 1286.7,654.2 1293.9,654.4 1301.2,654.2 1308.4,653.7 1315.7,652.5 1322.9,651.9 1330.1,651.3 1337.4,651.8" fill="none" stroke="#e8d33a" stroke-width="1.5" stroke-linejoin="round"/>
</g>
<text x="1424.00" y="78.26" font-size="15" fill="#d0d0d0" stroke="#0f0f0f" stroke-width="0.28" font-weight="normal" textLength="48.50" lengthAdjust="spacingAndGlyphs">2.34000</text>
<text x="1424.00" y="146.98" font-size="15" fill="#d0d0d0" stroke="#0f0f0f" stroke-width="0.28" font-weight="normal" textLength="48.50" lengthAdjust="spacingAndGlyphs">2.32000</text>
<text x="1424.00" y="215.70" font-size="15" fill="#d0d0d0" stroke="#0f0f0f" stroke-width="0.28" font-weight="normal" textLength="48.50" lengthAdjust="spacingAndGlyphs">2.30000</text>
<text x="1424.00" y="284.42" font-size="15" fill="#d0d0d0" stroke="#0f0f0f" stroke-width="0.28" font-weight="normal" textLength="48.50" lengthAdjust="spacingAndGlyphs">2.28000</text>
<text x="1424.00" y="353.14" font-size="15" fill="#d0d0d0" stroke="#0f0f0f" stroke-width="0.28" font-weight="normal" textLength="48.50" lengthAdjust="spacingAndGlyphs">2.26000</text>
<text x="1424.00" y="421.86" font-size="15" fill="#d0d0d0" stroke="#0f0f0f" stroke-width="0.28" font-weight="normal" textLength="48.50" lengthAdjust="spacingAndGlyphs">2.24000</text>
<text x="1424.00" y="559.30" font-size="15" fill="#d0d0d0" stroke="#0f0f0f" stroke-width="0.28" font-weight="normal" textLength="48.50" lengthAdjust="spacingAndGlyphs">2.20000</text>
<rect x="1414" y="34" width="72" height="39.5" fill="#0f0f0f"/>
<rect x="1418.5" y="38.2" width="65.5" height="30.5" rx="6.5" fill="#0f0f0f" stroke="#333333" stroke-width="1.6"/>
<text x="1428.80" y="58.00" font-size="15" fill="#d0d0d0" stroke="#0f0f0f" stroke-width="0.28" font-weight="normal" textLength="26.80" lengthAdjust="spacingAndGlyphs">NZD</text>
<path d="M1414,458.3 H1481.5 a2,2 0 0 1 2,2 V494 a2,2 0 0 1 -2,2 H1414 Z" fill="#f23645"/>
<text x="1425.20" y="474.00" font-size="15" fill="#ffffff" stroke="#f23645" stroke-width="0.28" font-weight="normal" textLength="48.10" lengthAdjust="spacingAndGlyphs">2.22507</text>
<text x="1424.20" y="491.30" font-size="15" fill="#ffffff" stroke="#f23645" stroke-width="0.28" font-weight="normal" textLength="53.80" lengthAdjust="spacingAndGlyphs">02:37:24</text>
<defs><clipPath id="fl"><circle r="9.8"/></clipPath></defs>
<g transform="translate(1373.1,573.9)"><circle r="13.2" fill="#f23645"/><circle r="11" fill="#0f0f0f"/><g clip-path="url(#fl)"><rect x="-10" y="-10" width="20" height="20" fill="#1e4db5"/><path d="M-10,-10 L10,10 M10,-10 L-10,10" stroke="#f4f4f4" stroke-width="3.2"/><path d="M-10,-10 L10,10 M10,-10 L-10,10" stroke="#f06a72" stroke-width="1.2"/><path d="M-10,0 H10 M0,-10 V10" stroke="#f4f4f4" stroke-width="4.5"/><path d="M-10,0 H10 M0,-10 V10" stroke="#f05560" stroke-width="2.2"/></g></g>
<text x="1424.00" y="619.00" font-size="15" fill="#d0d0d0" stroke="#0f0f0f" stroke-width="0.28" font-weight="normal" textLength="34.00" lengthAdjust="spacingAndGlyphs">80.00</text>
<path d="M1414,626.2 H1462.5 a2,2 0 0 1 2,2 V645 a2,2 0 0 1 -2,2 H1414 Z" fill="#f7e43b"/>
<text x="1424.40" y="641.80" font-size="15" fill="#131313" font-weight="normal" textLength="34.90" lengthAdjust="spacingAndGlyphs">46.55</text>
<path d="M1414,647.8 H1462.5 a2,2 0 0 1 2,2 V666 a2,2 0 0 1 -2,2 H1414 Z" fill="#f23645"/>
<text x="1424.40" y="663.00" font-size="15" fill="#ffffff" stroke="#f23645" stroke-width="0.28" font-weight="normal" textLength="34.90" lengthAdjust="spacingAndGlyphs">41.88</text>
<text x="13.30" y="725.90" font-size="15" fill="#d0d0d0" stroke="#0f0f0f" stroke-width="0.28" font-weight="normal" textLength="11.20" lengthAdjust="spacingAndGlyphs">11</text>
<text x="99.20" y="725.90" font-size="15" fill="#d0d0d0" stroke="#0f0f0f" stroke-width="0.28" font-weight="normal" textLength="13.30" lengthAdjust="spacingAndGlyphs">13</text>
<text x="178.00" y="725.90" font-size="15" fill="#d0d0d0" stroke="#0f0f0f" stroke-width="0.28" font-weight="normal" textLength="14.00" lengthAdjust="spacingAndGlyphs">16</text>
<text x="273.30" y="725.90" font-size="15" fill="#d0d0d0" stroke="#0f0f0f" stroke-width="0.28" font-weight="normal" textLength="13.40" lengthAdjust="spacingAndGlyphs">19</text>
<text x="359.50" y="725.90" font-size="15" fill="#d0d0d0" stroke="#0f0f0f" stroke-width="0.28" font-weight="normal" textLength="13.00" lengthAdjust="spacingAndGlyphs">21</text>
<text x="447.19" y="725.90" font-size="15" fill="#d0d0d0" stroke="#0f0f0f" stroke-width="0.28" font-weight="normal" textLength="13.00" lengthAdjust="spacingAndGlyphs">25</text>
<text x="534.11" y="725.90" font-size="15" fill="#d0d0d0" stroke="#0f0f0f" stroke-width="0.28" font-weight="normal" textLength="13.00" lengthAdjust="spacingAndGlyphs">27</text>
<text x="658.40" y="725.90" font-size="15" fill="#d0d0d0" stroke="#0f0f0f" stroke-width="0.28" font-weight="bold" textLength="23.60" lengthAdjust="spacingAndGlyphs">Apr</text>
<text x="754.40" y="725.90" font-size="15" fill="#d0d0d0" stroke="#0f0f0f" stroke-width="0.28" font-weight="normal" textLength="7.20" lengthAdjust="spacingAndGlyphs">3</text>
<text x="833.60" y="725.90" font-size="15" fill="#d0d0d0" stroke="#0f0f0f" stroke-width="0.28" font-weight="normal" textLength="7.40" lengthAdjust="spacingAndGlyphs">6</text>
<text x="928.15" y="725.90" font-size="15" fill="#d0d0d0" stroke="#0f0f0f" stroke-width="0.28" font-weight="normal" textLength="7.20" lengthAdjust="spacingAndGlyphs">9</text>
<text x="1012.17" y="725.90" font-size="15" fill="#d0d0d0" stroke="#0f0f0f" stroke-width="0.28" font-weight="normal" textLength="13.00" lengthAdjust="spacingAndGlyphs">11</text>
<text x="1099.50" y="725.90" font-size="15" fill="#d0d0d0" stroke="#0f0f0f" stroke-width="0.28" font-weight="normal" textLength="13.00" lengthAdjust="spacingAndGlyphs">15</text>
<text x="1186.01" y="725.90" font-size="15" fill="#d0d0d0" stroke="#0f0f0f" stroke-width="0.28" font-weight="normal" textLength="13.00" lengthAdjust="spacingAndGlyphs">17</text>
<text x="1265.69" y="725.90" font-size="15" fill="#d0d0d0" stroke="#0f0f0f" stroke-width="0.28" font-weight="normal" textLength="13.00" lengthAdjust="spacingAndGlyphs">20</text>
<text x="1359.86" y="725.90" font-size="15" fill="#d0d0d0" stroke="#0f0f0f" stroke-width="0.28" font-weight="normal" textLength="13.00" lengthAdjust="spacingAndGlyphs">23</text>
<text x="12.50" y="23.90" font-size="15" fill="#cfcfcf" stroke="#1e1e1e" stroke-width="0.28" font-weight="normal" textLength="125.90" lengthAdjust="spacingAndGlyphs">XxXABACADEMYXxX</text>
<text x="144.40" y="23.90" font-size="15" fill="#cfcfcf" stroke="#1e1e1e" stroke-width="0.28" font-weight="normal" textLength="62.60" lengthAdjust="spacingAndGlyphs">published</text>
<text x="213.60" y="23.90" font-size="15" fill="#cfcfcf" stroke="#1e1e1e" stroke-width="0.28" font-weight="normal" textLength="14.40" lengthAdjust="spacingAndGlyphs">on</text>
<text x="236.00" y="23.90" font-size="15" fill="#cfcfcf" stroke="#1e1e1e" stroke-width="0.28" font-weight="normal" textLength="114.40" lengthAdjust="spacingAndGlyphs">TradingView.com,</text>
<text x="355.40" y="23.90" font-size="15" fill="#cfcfcf" stroke="#1e1e1e" stroke-width="0.28" font-weight="normal" textLength="21.10" lengthAdjust="spacingAndGlyphs">Apr</text>
<text x="382.50" y="23.90" font-size="15" fill="#cfcfcf" stroke="#1e1e1e" stroke-width="0.28" font-weight="normal" textLength="19.00" lengthAdjust="spacingAndGlyphs">22,</text>
<text x="407.80" y="23.90" font-size="15" fill="#cfcfcf" stroke="#1e1e1e" stroke-width="0.28" font-weight="normal" textLength="27.80" lengthAdjust="spacingAndGlyphs">2025</text>
<text x="443.00" y="23.90" font-size="15" fill="#cfcfcf" stroke="#1e1e1e" stroke-width="0.28" font-weight="normal" textLength="31.50" lengthAdjust="spacingAndGlyphs">10:22</text>
<text x="480.40" y="23.90" font-size="15" fill="#cfcfcf" stroke="#1e1e1e" stroke-width="0.28" font-weight="normal" textLength="25.60" lengthAdjust="spacingAndGlyphs">UTC</text>
<text x="22.70" y="57.00" font-size="15" fill="#d0d0d0" stroke="#0f0f0f" stroke-width="0.28" font-weight="normal" textLength="231.70" lengthAdjust="spacingAndGlyphs">British Pound / New Zealand Dollar</text>
<text x="269.00" y="57.00" font-size="15" fill="#d0d0d0" stroke="#0f0f0f" stroke-width="0.28" font-weight="normal" textLength="15.00" lengthAdjust="spacingAndGlyphs">4h</text>
<text x="300.60" y="57.00" font-size="15" fill="#d0d0d0" stroke="#0f0f0f" stroke-width="0.28" font-weight="normal" textLength="34.40" lengthAdjust="spacingAndGlyphs">FXCM</text>
<text x="346.40" y="57.00" font-size="15" fill="#d0d0d0" stroke="#0f0f0f" stroke-width="0.28" font-weight="normal" textLength="8.60" lengthAdjust="spacingAndGlyphs">O</text>
<text x="357.00" y="57.00" font-size="15" fill="#f23645" stroke="#0f0f0f" stroke-width="0.1" font-weight="normal" textLength="48.00" lengthAdjust="spacingAndGlyphs">2.22913</text>
<text x="415.00" y="57.00" font-size="15" fill="#d0d0d0" stroke="#0f0f0f" stroke-width="0.28" font-weight="normal" textLength="8.00" lengthAdjust="spacingAndGlyphs">H</text>
<text x="424.40" y="57.00" font-size="15" fill="#f23645" stroke="#0f0f0f" stroke-width="0.1" font-weight="normal" textLength="48.00" lengthAdjust="spacingAndGlyphs">2.22943</text>
<text x="482.70" y="57.00" font-size="15" fill="#d0d0d0" stroke="#0f0f0f" stroke-width="0.28" font-weight="normal" textLength="6.30" lengthAdjust="spacingAndGlyphs">L</text>
<text x="489.30" y="57.00" font-size="15" fill="#f23645" stroke="#0f0f0f" stroke-width="0.1" font-weight="normal" textLength="48.00" lengthAdjust="spacingAndGlyphs">2.22462</text>
<text x="548.30" y="57.00" font-size="15" fill="#d0d0d0" stroke="#0f0f0f" stroke-width="0.28" font-weight="normal" textLength="7.70" lengthAdjust="spacingAndGlyphs">C</text>
<text x="556.70" y="57.00" font-size="15" fill="#f23645" stroke="#0f0f0f" stroke-width="0.1" font-weight="normal" textLength="47.30" lengthAdjust="spacingAndGlyphs">2.22507</text>
<text x="615.00" y="57.00" font-size="15" fill="#f23645" stroke="#0f0f0f" stroke-width="0.1" font-weight="normal" textLength="54.30" lengthAdjust="spacingAndGlyphs">−0.00406</text>
<text x="676.00" y="57.00" font-size="15" fill="#f23645" stroke="#0f0f0f" stroke-width="0.1" font-weight="normal" textLength="49.00" lengthAdjust="spacingAndGlyphs">(−0.18%)</text>
<text x="22.70" y="77.00" font-size="15" fill="#d0d0d0" stroke="#0f0f0f" stroke-width="0.28" font-weight="normal" textLength="155.80" lengthAdjust="spacingAndGlyphs">Pivots (Fibonacci, Auto)</text>
<circle cx="263" cy="52" r="1.3" fill="#d0d0d0"/><circle cx="293.6" cy="52" r="1.3" fill="#d0d0d0"/>
<text x="22.40" y="615.00" font-size="15" fill="#d0d0d0" stroke="#1a1721" stroke-width="0.28" font-weight="normal" textLength="91.20" lengthAdjust="spacingAndGlyphs">RSI (12, close)</text>
<text x="124.40" y="615.00" font-size="15" fill="#f23645" stroke="#1a1721" stroke-width="0.1" font-weight="normal" textLength="34.60" lengthAdjust="spacingAndGlyphs">41.88</text>
<text x="168.00" y="615.00" font-size="15" fill="#e8d33a" stroke="#1a1721" stroke-width="0.15" font-weight="normal" textLength="34.00" lengthAdjust="spacingAndGlyphs">46.55</text>
<g fill="none" stroke="#d0d0d0" stroke-width="1.1"><ellipse cx="216" cy="609.8" rx="3.2" ry="4.6"/><line x1="212.5" y1="616.5" x2="219.5" y2="603"/></g>
<g fill="none" stroke="#d0d0d0" stroke-width="1.1"><ellipse cx="235.5" cy="609.8" rx="3.2" ry="4.6"/><line x1="232.0" y1="616.5" x2="239.0" y2="603"/></g>
<g fill="none" stroke="#d0d0d0" stroke-width="1.1"><ellipse cx="254.5" cy="609.8" rx="3.2" ry="4.6"/><line x1="251.0" y1="616.5" x2="258.0" y2="603"/></g>
<g fill="#dcdcdc"><path d="M12.4,752.8 H21.9 V764.7 H17.1 V757 H12.4 Z"/><circle cx="25.8" cy="754.8" r="2"/><path d="M30.1,752.8 H36 L31.9,764.7 H26 Z"/></g>
<text x="40.50" y="764.70" font-size="15" fill="#b8b8b8" stroke="#1e1e1e" stroke-width="0.28" font-weight="normal" textLength="87.10" lengthAdjust="spacingAndGlyphs">TradingView</text>
</svg></body></html>
